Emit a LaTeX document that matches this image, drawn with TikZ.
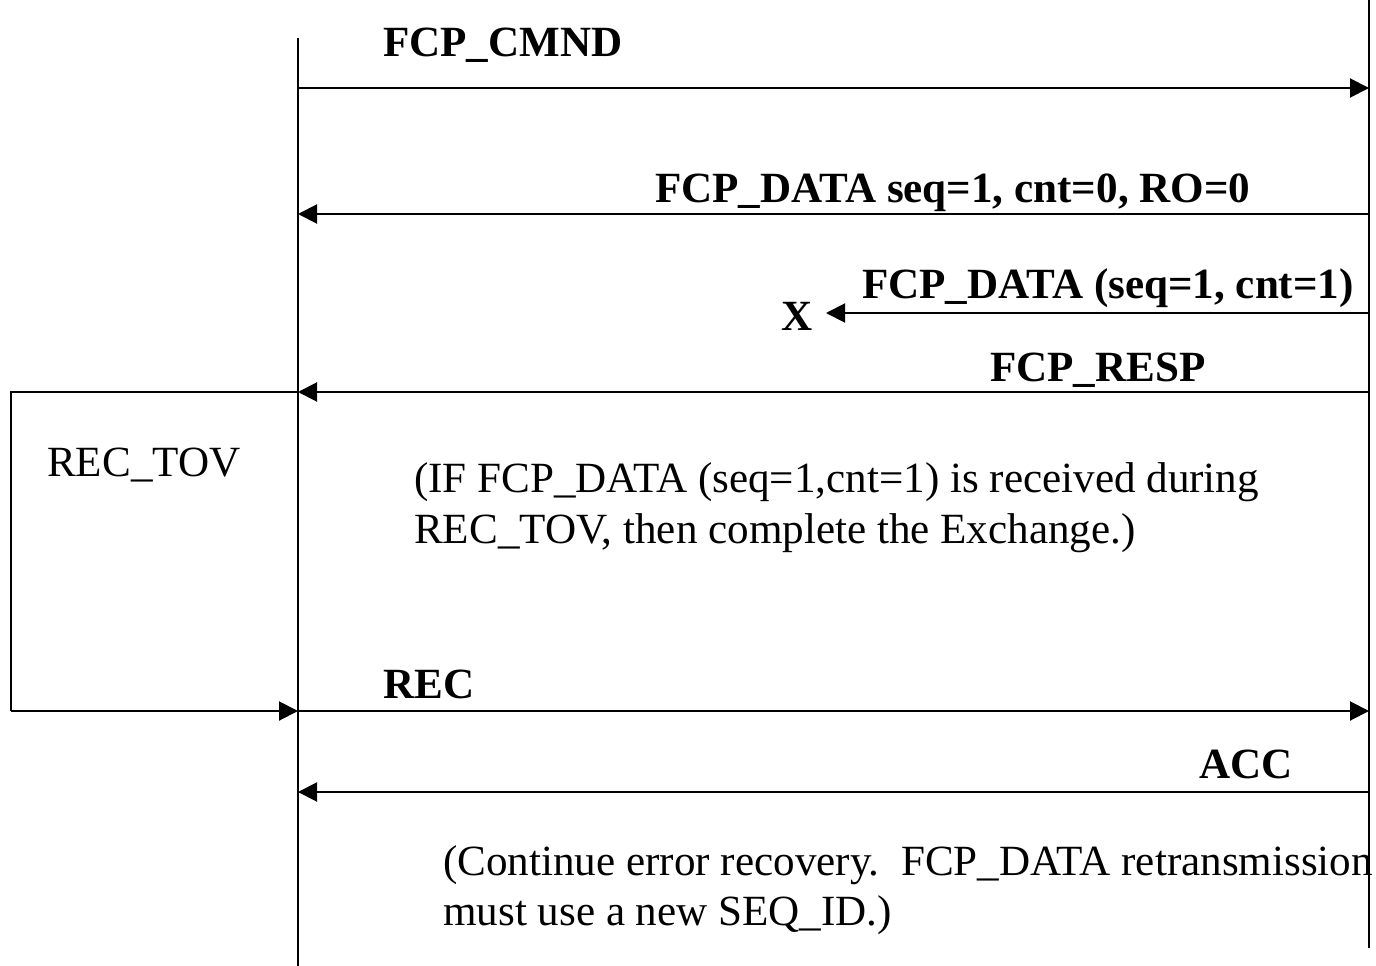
\documentclass[tikz,border=0pt]{standalone}
\usepackage{fontspec}
\setmainfont{Liberation Serif}
\usetikzlibrary{arrows.meta}
\begin{document}
\begin{tikzpicture}[x=1pt,y=-1pt,
  line/.style={line width=2pt,black},
  msg/.style={line width=2pt,-{Triangle[length=19pt,width=19pt]}},
  lbl/.style={anchor=base west,inner sep=0pt,font=\fontsize{43.1}{50}\selectfont\bfseries},
  txt/.style={anchor=base west,inner sep=0pt,font=\fontsize{43.1}{50}\selectfont}]
\useasboundingbox (0,0) rectangle (1376,966);
% lifelines
\coordinate (Ltop) at (298,38);
\coordinate (Lbot) at (298,966);
\coordinate (Rtop) at (1369,0);
\coordinate (Rbot) at (1369,948);
\draw[line] (Ltop) -- (Lbot);
\draw[line] (Rtop) -- (Rbot);
% message points
\coordinate (L1) at (298,88);   \coordinate (R1) at (1369,88);
\coordinate (L2) at (298,214);  \coordinate (R2) at (1369,214);
\coordinate (X3) at (826,313);  \coordinate (R3) at (1369,313);
\coordinate (L4) at (298,392);  \coordinate (R4) at (1369,392);
\coordinate (L5) at (298,711);  \coordinate (R5) at (1369,711);
\coordinate (L6) at (298,792);  \coordinate (R6) at (1369,792);
\coordinate (B1) at (11,392);   \coordinate (B2) at (11,711);
% arrows
\draw[msg] (L1) -- (R1);
\draw[msg] (R2) -- (L2);
\draw[msg] (R3) -- (X3);
\draw[msg] (R4) -- (L4);
\draw[line] (L4) -- (B1) -- (B2);
\draw[msg] (B2) -- (L5);
\draw[msg] (L5) -- (R5);
\draw[msg] (R6) -- (L6);
% labels
\node[lbl] (t1) at (383,57) {FCP\_CMND};
\node[lbl] (t2) at (655,202) {FCP\_DATA seq=1, cnt=0, RO=0};
\node[lbl] (t3) at (862,298) {FCP\_DATA (seq=1, cnt=1)};
\node[lbl] (tx) at (781,330) {X};
\node[lbl] (t4) at (990,381) {FCP\_RESP};
\node[txt] (tov) at (47,476) {REC\_TOV};
\node[txt] (n1) at (414,492) {(IF FCP\_DATA (seq=1,cnt=1) is received during};
\node[txt] (n2) at (414,543) {REC\_TOV, then complete the Exchange.)};
\node[lbl] (t5) at (383,698) {REC};
\node[lbl] (t6) at (1199,778) {ACC};
\node[txt] (c1) at (443,875) {(Continue error recovery.\ \ FCP\_DATA retransmission};
\node[txt] (c2) at (443,925) {must use a new SEQ\_ID.)};
\end{tikzpicture}
\end{document}
